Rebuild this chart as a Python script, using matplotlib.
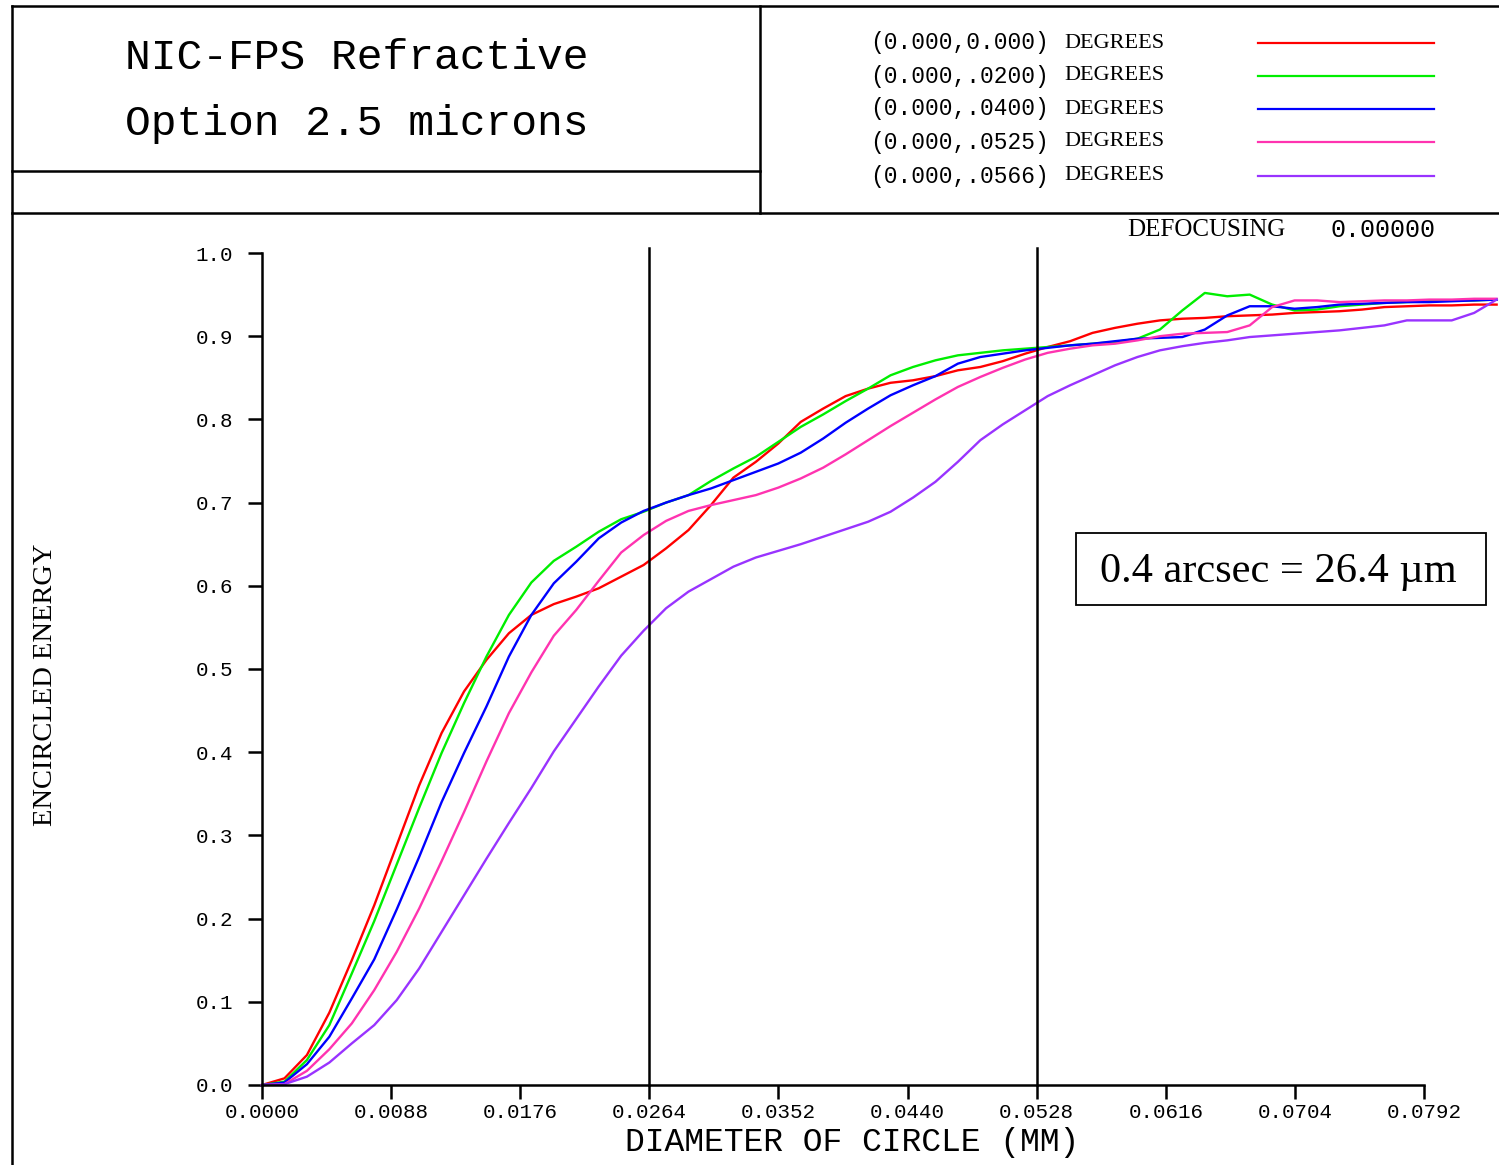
import matplotlib
matplotlib.use("Agg")
import matplotlib.pyplot as plt
from matplotlib.lines import Line2D
from matplotlib.patches import Rectangle

# sampled diameters (mm)
diameter = [0.0, 0.00153, 0.00306, 0.00459, 0.00612, 0.00765, 0.00918, 0.01071,
            0.01224, 0.01377, 0.01530, 0.01683, 0.01836, 0.01989, 0.02142, 0.02295,
            0.02448, 0.02601, 0.02754, 0.02907, 0.03060, 0.03213, 0.03366, 0.03519,
            0.03672, 0.03825, 0.03978, 0.04131, 0.04284, 0.04437, 0.04590, 0.04743,
            0.04896, 0.05049, 0.05202, 0.05355, 0.05508, 0.05661, 0.05814, 0.05967,
            0.06120, 0.06273, 0.06426, 0.06579, 0.06732, 0.06885, 0.07038, 0.07191,
            0.07344, 0.07497, 0.07650, 0.07803, 0.07956, 0.08109, 0.08262, 0.08415]

ee_000 = [0.0, 0.008, 0.036, 0.087, 0.150, 0.216, 0.288, 0.360, 0.423, 0.473,
          0.511, 0.543, 0.565, 0.578, 0.587, 0.597, 0.611, 0.625, 0.645, 0.667,
          0.697, 0.730, 0.749, 0.771, 0.797, 0.813, 0.828, 0.837, 0.844, 0.847,
          0.852, 0.859, 0.863, 0.870, 0.879, 0.887, 0.894, 0.904, 0.910, 0.915,
          0.919, 0.921, 0.922, 0.924, 0.925, 0.926, 0.928, 0.929, 0.930, 0.932,
          0.935, 0.936, 0.937, 0.937, 0.938, 0.938]

ee_020 = [0.0, 0.004, 0.030, 0.072, 0.134, 0.197, 0.265, 0.333, 0.399, 0.459,
          0.515, 0.565, 0.604, 0.630, 0.647, 0.665, 0.680, 0.689, 0.700, 0.709,
          0.726, 0.741, 0.755, 0.773, 0.791, 0.806, 0.822, 0.837, 0.853, 0.863,
          0.871, 0.877, 0.880, 0.883, 0.885, 0.887, 0.889, 0.891, 0.893, 0.897,
          0.908, 0.931, 0.952, 0.948, 0.950, 0.938, 0.931, 0.932, 0.936, 0.938,
          0.940, 0.941, 0.942, 0.943, 0.943, 0.944]

ee_040 = [0.0, 0.003, 0.025, 0.058, 0.104, 0.151, 0.211, 0.274, 0.340, 0.399,
          0.455, 0.515, 0.565, 0.603, 0.629, 0.657, 0.676, 0.690, 0.700, 0.709,
          0.717, 0.727, 0.737, 0.747, 0.760, 0.777, 0.796, 0.813, 0.829, 0.841,
          0.852, 0.867, 0.875, 0.879, 0.883, 0.886, 0.889, 0.891, 0.894, 0.897,
          0.898, 0.899, 0.908, 0.925, 0.936, 0.936, 0.933, 0.935, 0.938, 0.939,
          0.940, 0.941, 0.941, 0.942, 0.943, 0.944]

ee_0525 = [0.0, 0.001, 0.017, 0.043, 0.074, 0.114, 0.160, 0.212, 0.269, 0.328,
           0.389, 0.447, 0.496, 0.540, 0.571, 0.606, 0.640, 0.661, 0.678, 0.690,
           0.697, 0.703, 0.709, 0.718, 0.729, 0.742, 0.758, 0.775, 0.792, 0.808,
           0.824, 0.839, 0.851, 0.862, 0.872, 0.880, 0.885, 0.889, 0.891, 0.895,
           0.900, 0.903, 0.904, 0.905, 0.913, 0.935, 0.943, 0.943, 0.941, 0.942,
           0.943, 0.943, 0.944, 0.944, 0.945, 0.945]

ee_0566 = [0.0, 0.001, 0.010, 0.027, 0.050, 0.072, 0.102, 0.140, 0.184, 0.228,
           0.272, 0.315, 0.357, 0.401, 0.440, 0.479, 0.516, 0.546, 0.573, 0.593,
           0.608, 0.623, 0.634, 0.642, 0.650, 0.659, 0.668, 0.677, 0.689, 0.706,
           0.725, 0.749, 0.775, 0.794, 0.811, 0.828, 0.841, 0.853, 0.865, 0.875,
           0.883, 0.888, 0.892, 0.895, 0.899, 0.901, 0.903, 0.905, 0.907, 0.910,
           0.913, 0.919, 0.919, 0.919, 0.928, 0.944]

series = [ee_000, ee_020, ee_040, ee_0525, ee_0566]
labels = ["(0.000,0.000)", "(0.000,.0200)", "(0.000,.0400)", "(0.000,.0525)", "(0.000,.0566)"]
colors = ["#ff0000", "#00ee00", "#0000ff", "#ff33b0", "#9933ff"]

x_ticks = [0.0, 0.0088, 0.0176, 0.0264, 0.0352, 0.0440, 0.0528, 0.0616, 0.0704, 0.0792]
y_ticks = [0.0, 0.1, 0.2, 0.3, 0.4, 0.5, 0.6, 0.7, 0.8, 0.9, 1.0]
marker_lines = [0.0264, 0.0528]

W, H = 1499, 1165
MONO = "Liberation Mono"
SERIF = "Liberation Serif"


def fx(px):
    return px / W


def fy(py):
    return 1 - py / H


fig = plt.figure(figsize=(W / 100, H / 100), dpi=100)
fig.patch.set_facecolor("white")

# frame of the header
def hline(x0, x1, y, lw=1.8):
    fig.add_artist(Line2D([fx(x0), fx(x1)], [fy(y), fy(y)], color="black", lw=lw))


def vline(x, y0, y1, lw=1.8):
    fig.add_artist(Line2D([fx(x), fx(x)], [fy(y0), fy(y1)], color="black", lw=lw))


hline(12, W, 6)
hline(12, W, 213)
hline(12, 760, 171)
vline(12, 6, H)
vline(760, 6, 213)

# title
fig.text(fx(125), fy(58), "NIC-FPS Refractive", family=MONO, fontsize=31,
         ha="left", va="center")
fig.text(fx(125), fy(124), "Option 2.5 microns", family=MONO, fontsize=31,
         ha="left", va="center")

# legend
rows = [43, 76, 109, 142, 176]
for lab, col, ry in zip(labels, colors, rows):
    fig.text(fx(870), fy(ry), lab, family=MONO, fontsize=16.5, ha="left", va="center")
    fig.text(fx(1064), fy(ry), "DEGREES", family=SERIF, fontsize=16, ha="left", va="center")
    fig.add_artist(Line2D([fx(1258), fx(1434)], [fy(ry), fy(ry)], color=col, lw=1.6))

fig.text(fx(1127), fy(230), "DEFOCUSING", family=SERIF, fontsize=18, ha="left", va="center")
fig.text(fx(1436), fy(230), "0.00000", family=MONO, fontsize=18, ha="right", va="center")

# plot
ax = fig.add_axes([fx(262), 80 / H, 1162 / W, 832 / H])
for ys, col in zip(series, colors):
    ax.plot(diameter, ys, color=col, lw=1.7, clip_on=False)
for xv in marker_lines:
    ax.plot([xv, xv], [0, 1.006], color="black", lw=1.8, clip_on=False)

ax.set_xlim(0, 0.0792)
ax.set_ylim(0, 1.0)
ax.set_xticks(x_ticks)
ax.set_xticklabels([f"{v:.4f}" for v in x_ticks], family=MONO, fontsize=15)
ax.set_yticks(y_ticks)
ax.set_yticklabels([f"{v:.1f}" for v in y_ticks], family=MONO, fontsize=15)
ax.tick_params(axis="x", length=10, width=1.8, pad=3, direction="out")
ax.tick_params(axis="y", length=10, width=1.8, pad=11, direction="out")
for s in ["top", "right"]:
    ax.spines[s].set_visible(False)
for s in ["left", "bottom"]:
    ax.spines[s].set_linewidth(1.8)

fig.text(fx(852), fy(1142), "DIAMETER OF CIRCLE (MM)", family=MONO, fontsize=23.8,
         ha="center", va="center")
fig.text(fx(46), fy(685), "ENCIRCLED ENERGY", family=SERIF, fontsize=20.5,
         rotation=90, ha="center", va="center")

# annotation box
fig.add_artist(Rectangle((fx(1076), fy(605)), (1486 - 1076) / W, (605 - 533) / H,
                         fill=False, edgecolor="black", lw=1.3))
fig.text(fx(1278), fy(572), "0.4 arcsec = 26.4 \u00b5m", family=SERIF, fontsize=30.5,
         ha="center", va="center")

fig.savefig("out.png", dpi=100)
